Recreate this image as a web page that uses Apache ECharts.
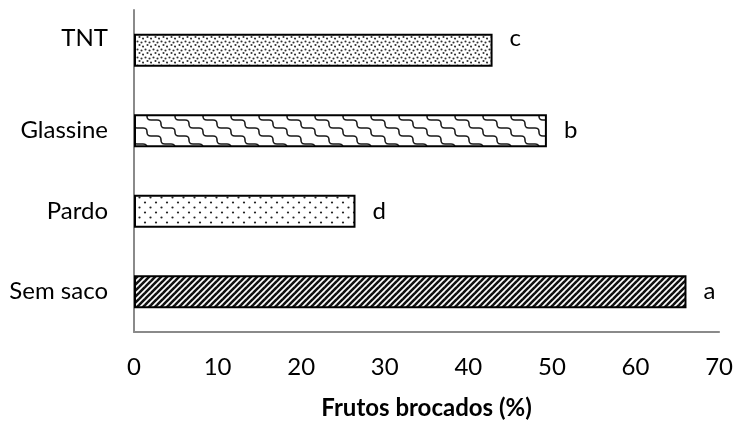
<!DOCTYPE html>
<html>
<head>
<meta charset="utf-8">
<script src="https://cdn.jsdelivr.net/npm/echarts@6/dist/echarts.min.js"></script>
<style>
html,body{margin:0;padding:0;background:#fff;}
#chart{width:736px;height:425px;}
</style>
</head>
<body>
<div id="chart"></div>
<script>
const categories = ['Sem saco', 'Pardo', 'Glassine', 'TNT'];
const values = [66.1, 26.5, 49.4, 42.9];
const letters = ['a', 'd', 'b', 'c'];
const xTicks = [0, 10, 20, 30, 40, 50, 60, 70];
const xTitle = 'Frutos brocados (%)';

function tile(w, h, draw) {
  const c = document.createElement('canvas');
  c.width = w; c.height = h;
  const ctx = c.getContext('2d');
  ctx.fillStyle = '#fff';
  ctx.fillRect(0, 0, w, h);
  draw(ctx, w, h);
  return c;
}
function dots(ctx, pts, r, col) {
  ctx.fillStyle = col;
  pts.forEach(p => { ctx.beginPath(); ctx.arc(p[0], p[1], r, 0, Math.PI * 2); ctx.fill(); });
}
const patSem = tile(6, 6, (ctx) => {
  ctx.strokeStyle = '#111'; ctx.lineWidth = 2.6;
  [-6, 0, 6].forEach(k => { ctx.beginPath(); ctx.moveTo(k - 1, 7); ctx.lineTo(k + 7, -1); ctx.stroke(); });
});
const patPardo = tile(11, 10, (ctx) => {
  dots(ctx, [[2, 2.5], [7.5, 7.5]], 1.1, '#222');
});
const patTNT = tile(8, 8, (ctx) => {
  dots(ctx, [[1.5, 1.5], [5.5, 2.5], [3.5, 5], [7, 6.5]], 1.05, '#333');
});
const patGlass = tile(28, 16, (ctx) => {
  ctx.strokeStyle = '#1a1a1a'; ctx.lineWidth = 1.6;
  const s = (x0, y0) => {
    ctx.beginPath();
    ctx.moveTo(x0, y0);
    ctx.lineTo(x0 + 3, y0);
    ctx.bezierCurveTo(x0 + 11, y0, x0 + 3, y0 + 8, x0 + 11, y0 + 8);
    ctx.lineTo(x0 + 14, y0 + 8);
    ctx.stroke();
  };
  for (let dx = -28; dx <= 28; dx += 28) {
    for (let dy = -16; dy <= 16; dy += 16) {
      s(dx, dy); s(dx + 14, dy + 8);
    }
  }
});
const pats = [patSem, patPardo, patGlass, patTNT];

const chart = echarts.init(document.getElementById('chart'), null, { renderer: 'canvas' });
const FONT = 'Lato';
chart.setOption({
  animation: false,
  backgroundColor: '#fff',
  grid: { left: 134, right: 14, top: 10, bottom: 90, containLabel: false },
  xAxis: {
    type: 'value', min: xTicks[0], max: xTicks[xTicks.length - 1], interval: 10,
    axisLine: { show: true, lineStyle: { color: '#8a8a8a', width: 2 } },
    axisTick: { show: false },
    splitLine: { show: false },
    axisLabel: { color: '#000', fontFamily: FONT, fontSize: 24, margin: 23 },
    name: xTitle, nameLocation: 'middle', nameGap: 64,
    nameTextStyle: { color: '#000', fontFamily: FONT, fontSize: 24, fontWeight: 'bold' }
  },
  yAxis: {
    type: 'category', data: categories,
    axisLine: { show: true, lineStyle: { color: '#8a8a8a', width: 2 } },
    axisTick: { show: false },
    axisLabel: {
      color: '#000', fontFamily: FONT, fontSize: 24, margin: 26,
      formatter: v => v === 'TNT' ? '{up|' + v + '}' : '{n|' + v + '}',
      rich: {
        n: { color: '#000', fontFamily: FONT, fontSize: 24 },
        up: { color: '#000', fontFamily: FONT, fontSize: 24, padding: [0, 0, 24, 0] }
      }
    }
  },
  series: [{
    type: 'bar',
    barCategoryGap: '59%',
    data: values.map((v, i) => ({
      value: v,
      itemStyle: { color: { image: pats[i], repeat: 'repeat' }, borderColor: '#000', borderWidth: 2 },
      label: i === 3 ? { offset: [0, -12] } : {}
    })),
    label: {
      show: true, position: 'right', distance: 17,
      color: '#000', fontFamily: FONT, fontSize: 24,
      formatter: p => letters[p.dataIndex]
    }
  }]
});
</script>
</body>
</html>
